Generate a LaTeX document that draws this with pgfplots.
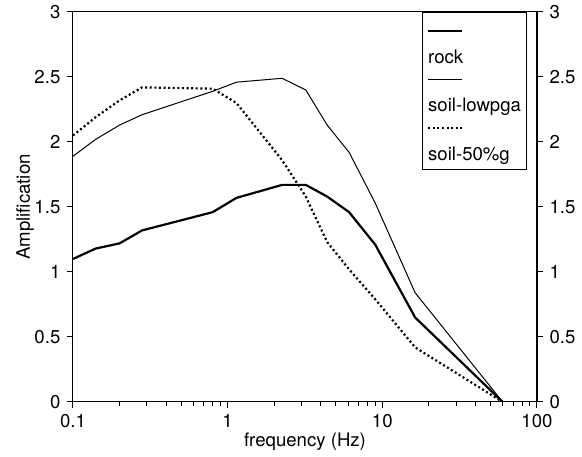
\documentclass[border=0pt]{standalone}
\usepackage{fontspec}
\setmainfont{TeX Gyre Heros}
\usepackage{pgfplots}
\pgfplotsset{compat=1.18}
\usetikzlibrary{calc}

\begin{document}
\begin{tikzpicture}[font=\fontsize{9.3}{11}\selectfont]
\begin{axis}[
    width=232pt, height=195pt, scale only axis,
    xmode=log, xmin=0.1, xmax=100, ymin=0, ymax=3,
    ytick={0,0.5,1,1.5,2,2.5,3},
    tick align=outside,
    major tick length=2.8pt, minor tick length=2.2pt,
    every tick/.style={black, line width=0.5pt},
    axis line style={line width=0.5pt},
    /pgf/number format/assume math mode=true,
    xtick={0.1,1,10,100}, xticklabels={0.1,1,10,100},
    minor xtick={0.2,0.3,0.4,0.5,0.6,0.7,0.8,0.9,2,3,4,5,6,7,8,9,20,30,40,50,60,70,80,90},
    xtick pos=bottom, ytick pos=left,
    xlabel={frequency (Hz)}, ylabel={Amplification},
    every axis x label/.style={at={(axis description cs:0.5,-0.113)}, anchor=base},
    every axis y label/.style={at={(axis description cs:-0.103,0.5)}, rotate=90, anchor=center},
    legend cell align=left,
    legend image code/.code={\draw[#1,overlay] (2pt,13.5pt) -- (19pt,13.5pt); \path[draw=none] (0pt,0pt) -- (0pt,21.5pt);},
    legend style={at={(rel axis cs:1,1)}, xshift=-5pt, anchor=north east,
      draw=black, line width=0.5pt, row sep=-3.4pt, inner xsep=0.8pt, inner ysep=1.2pt},
  ]
  \coordinate (bl) at (rel axis cs:0,0);
  \coordinate (tr) at (rel axis cs:1,1);
  \addplot[black, line width=1.1pt] coordinates {
    (0.1,1.10) (0.14,1.18) (0.2,1.22) (0.28,1.32) (0.8,1.46) (1.14,1.57)
    (2.25,1.67) (3.2,1.67) (4.4,1.58) (6.1,1.46) (9,1.21) (16.3,0.65) (60,0)};
  \addlegendentry{rock}
  \addplot[black, line width=0.5pt] coordinates {
    (0.1,1.89) (0.14,2.02) (0.2,2.13) (0.28,2.21) (0.8,2.39) (1.14,2.46)
    (2.25,2.49) (3.2,2.40) (4.4,2.13) (6.1,1.92) (9,1.53) (16.3,0.84) (60,0)};
  \addlegendentry{soil-lowpga}
  \addplot[black, line width=1.1pt, dash pattern=on 1pt off 1.3pt] coordinates {
    (0.1,2.05) (0.14,2.19) (0.2,2.32) (0.28,2.42) (0.8,2.41) (1.14,2.30)
    (2.25,1.86) (3.2,1.58) (4.4,1.23) (6.1,1.02) (9,0.79) (16.3,0.42) (60,0)};
  \addlegendentry{soil-50\%g}
\end{axis}
\begin{axis}[
    width=232pt, height=195pt, scale only axis,
    xmode=log, xmin=0.1, xmax=100, ymin=0, ymax=3,
    ytick={0,0.5,1,1.5,2,2.5,3},
    tick align=outside,
    major tick length=2.8pt,
    every tick/.style={black, line width=0.5pt},
    axis line style={line width=0.5pt},
    /pgf/number format/assume math mode=true,
    axis x line=none, axis y line*=right,
  ]
\end{axis}
\pgfresetboundingbox
\path ($(bl)+(-36.5pt,-27.5pt)$) rectangle ($(tr)+(22.5pt,6pt)$);
\end{tikzpicture}
\end{document}
